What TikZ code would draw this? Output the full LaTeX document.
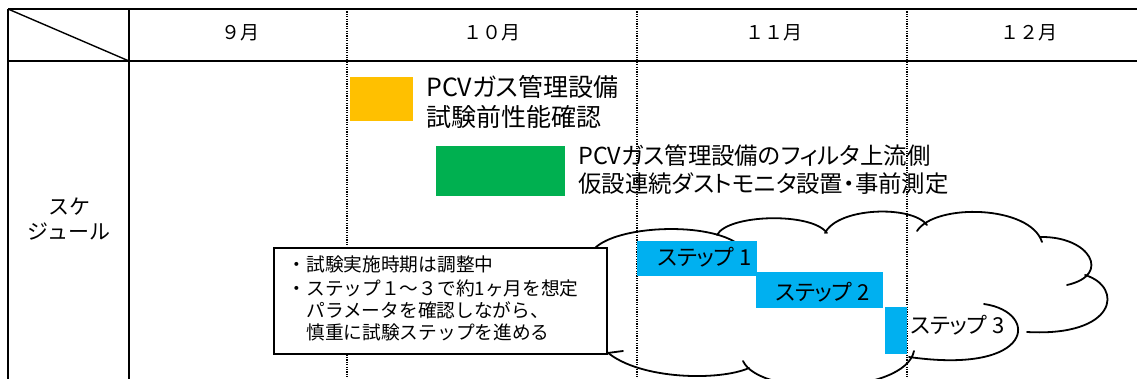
\documentclass[tikz,border=0pt]{standalone}
\usepackage{fontspec}
\setmainfont{Noto Sans CJK JP}
\newfontfamily\pfont[RawFeature=+palt]{Noto Sans CJK JP}
\definecolor{barorange}{HTML}{FFC000}
\definecolor{bargreen}{HTML}{00B050}
\definecolor{barblue}{HTML}{00B0F0}
\begin{document}
\begin{tikzpicture}[x=1pt,y=-1pt,
  grid/.style={line width=1.6pt,black},
  dotline/.style={line width=1.2pt,dash pattern=on 1.2pt off 1.2pt},
  cloudline/.style={line width=1.8pt,line cap=round},
  bar/.style={inner sep=0pt,outer sep=0pt,draw=none},
  lbl/.style={inner sep=0pt,anchor=base west},
  month/.style={inner sep=0pt,anchor=base,font=\fontsize{19pt}{22pt}\selectfont},
  side/.style={inner sep=0pt,anchor=base,font=\fontsize{21pt}{25pt}\selectfont},
  otext/.style={lbl,font=\pfont\fontsize{25pt}{30pt}\selectfont},
  gtext/.style={lbl,font=\pfont\fontsize{23.4pt}{28pt}\selectfont},
  stext/.style={lbl,font=\pfont\fontsize{22pt}{26pt}\selectfont},
  ntext/.style={lbl,font=\fontsize{18.7pt}{22pt}\selectfont},
  notebox/.style={draw,line width=2.5pt,fill=white,inner sep=0pt,outer sep=0pt}]
\useasboundingbox (0,0) rectangle (1137,379);
\clip (0,0) rectangle (1137,379);

% cloud
\draw[cloudline] (595,248) .. controls (618,226) and (702,222) .. (735,242);
\draw[cloudline] (717,235) .. controls (728,214) and (812,212) .. (827,233);
\draw[cloudline] (825,233) .. controls (838,207) and (912,205) .. (927,225);
\draw[cloudline] (917,231) .. controls (935,203) and (1030,205) .. (1042,242);
\draw[cloudline] (1040,237) .. controls (1090,236) and (1112,275) .. (1067,285);
\draw[cloudline] (1085,275) .. controls (1124,287) and (1117,337) .. (1027,332);
\draw[cloudline] (984,304) .. controls (1040,312) and (1035,375) .. (909,357);
\draw[cloudline] (914,351) .. controls (905,395) and (760,398) .. (743,361);
\draw[cloudline] (749,368) .. controls (720,381) and (640,380) .. (607,352);
\draw[cloudline] (623,351) -- (600,354);

% table
\draw[grid] (8,9) -- (1137,9);
\draw[grid] (8,61) -- (1137,61);
\draw[grid] (8,9) -- (8,379);
\draw[grid] (129,9) -- (129,379);
\draw[line width=1.4pt] (8,9) -- (129,61);
\foreach \xx in {347,637,907} \draw[dotline] (\xx,9) -- (\xx,379);

\node[month] (m9) at (240,40) {９月};
\node[month] (m10) at (492,40) {１０月};
\node[month] (m11) at (774,40) {１１月};
\node[month] (m12) at (1029,40) {１２月};

\node[side] (sch1) at (69,215) {スケ};
\node[side] (sch2) at (69,240) {ジュール};

% bars
\node[bar,fill=barorange,minimum width=63pt,minimum height=44pt] (obar) at (381.5,99) {};
\node[otext] (ot1) at (426,96.5) {PCVガス管理設備};
\node[otext] (ot2) at (426,126.5) {試験前性能確認};

\node[bar,fill=bargreen,minimum width=129pt,minimum height=50pt] (gbar) at (500.5,171) {};
\node[gtext] (gt1) at (578,165) {PCVガス管理設備のフィルタ上流側};
\node[gtext] (gt2) at (578,193) {仮設連続ダストモニタ設置・事前測定};

\node[bar,fill=barblue,minimum width=120pt,minimum height=35pt] (s1bar) at (697,258.5) {};
\node[bar,fill=barblue,minimum width=127pt,minimum height=36pt] (s2bar) at (819.5,290) {};
\node[bar,fill=barblue,minimum width=22pt,minimum height=47pt] (s3bar) at (896,330.5) {};
\node[stext] (s1) at (657,265.5) {ステップ 1};
\node[stext] (s2) at (775,300.5) {ステップ 2};
\node[stext] (s3) at (910,333.5) {ステップ 3};

% note
\node[notebox,minimum width=333pt,minimum height=106pt] (note) at (440.5,301) {};
\node[ntext] (n1) at (287.5,272) {・試験実施時期は調整中};
\node[ntext] (n2) at (287.5,295) {・ステップ１～３で約1ヶ月を想定};
\node[ntext] (n3) at (287.5,317) {\phantom{・}パラメータを確認しながら、};
\node[ntext] (n4) at (287.5,339) {\phantom{・}慎重に試験ステップを進める};
\end{tikzpicture}
\end{document}
